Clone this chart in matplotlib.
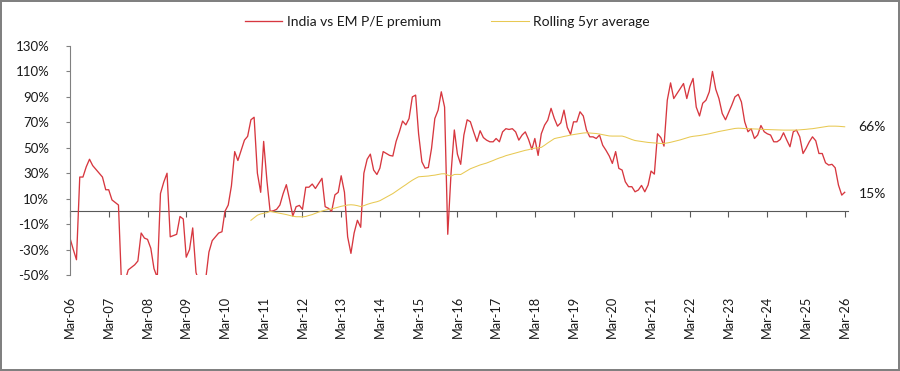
import pandas as pd
import matplotlib.pyplot as plt
import matplotlib.dates as mdates

plt.rcParams["font.family"] = ["Lato", "DejaVu Sans"]

# monthly, Mar-06 .. Mar-26
start = "2006-03-01"
premium = [
    -21, -30, -38, 27, 27, 35, 41, 36, 33, 30, 27, 17, 17, 9, 7, 5, -60, -55, -46, -44,
    -42, -39, -17, -21, -22, -29, -45, -52, 14, 23, 30, -20, -19, -18, -4, -6, -36, -30, -13, -48,
    -56, -58, -53, -32, -23, -20, -17, -16, 0, 5, 20, 47, 40, 48, 56, 59, 72, 74, 30, 15,
    55, 24, 0, 0.5, 1.6, 5, 14, 21, 9, -3.7, 3.7, 4.7, 1.6, 19, 19, 21.5, 18, 22, 26, 3.7,
    2.4, 0, 13, 15, 28, 15, -20, -33, -17, -7, -12.5, 30, 41, 45, 32.5, 29, 34, 47, 45.5, 44,
    43.5, 55, 62.6, 71, 68, 73, 90, 91.4, 61, 39, 34, 34.5, 49.5, 73, 79.6, 94, 82, -18, 30, 64,
    45, 37, 60, 72, 70.5, 62.5, 55, 63.4, 58, 56, 54.7, 54.7, 57.3, 54.7, 62.5, 65, 64.4, 65, 62.5, 56,
    60, 62.5, 56.5, 48.7, 57.3, 44, 61, 67.8, 71.7, 81, 73, 67, 69.6, 79.6, 66, 60.5, 70.4, 70.4, 78.3, 75,
    64, 58.6, 58.6, 57.3, 60, 52, 48, 43.5, 37.7, 47, 33.8, 32.5, 23.3, 19.4, 19.4, 15.4, 16.8, 20.4, 15.4, 20.7,
    31.7, 29.3, 61, 58, 51.3, 87.4, 101, 88.7, 92.7, 96.6, 100.5, 88.7, 98, 104.5, 82, 75, 85, 87.4, 94, 110,
    96, 88.7, 77, 72, 77.5, 83.5, 90, 92, 86, 70.4, 62.6, 65, 57.3, 60, 67.5, 62.6, 61, 60, 54.7, 54.7,
    56.5, 61.8, 56, 50.8, 62.6, 63.9, 58.6, 45.5, 49.5, 54.7, 58.6, 55.5, 45.5, 45.5, 38.2, 36.4, 37, 34.3, 20.7, 12.8,
    15,
]

# rolling 5yr average starts at month 56
avg_offset = 56
rolling_avg = [
    -7, -5, -3, -2, -1.5, -1, 0, -0.5, -1, -1.5, -2, -2.5, -3.2, -3.8, -4.2, -4.2, -4.3, -4, -3.2, -2.5,
    -1.5, -0.5, 0.3, 1, 1.5, 2, 2.6, 3.3, 4, 4.5, 5, 5.2, 5, 4.5, 3.8, 4.5, 5.5, 6.3, 7, 7.6,
    8.4, 9.8, 11.2, 12.5, 14, 15.8, 17.5, 19.3, 21, 22.8, 24.5, 26, 27.2, 27.4, 27.6, 27.8, 28.2, 28.5, 29, 29.5,
    29.6, 28.5, 27.8, 29, 29.1, 29, 30.5, 32, 33.5, 34.5, 35.5, 36.5, 37.3, 38, 39, 40, 41, 42, 42.8, 43.8,
    44.5, 45.3, 46, 46.7, 47.3, 48, 48.5, 49.3, 49.7, 50, 50.3, 52, 53.8, 55.5, 57.2, 57.8, 58.3, 58.9, 59.4, 60,
    60.4, 60.8, 61.2, 61.6, 61.8, 61.6, 61.4, 61.2, 60.8, 60.3, 59.8, 59.3, 59.2, 59.2, 59.2, 59.2, 58.5, 57.5, 56.5, 55.7,
    55.3, 55, 54.6, 54.2, 54, 53.8, 53.6, 53.4, 53.4, 53.8, 54.3, 54.9, 55.5, 56.2, 57, 57.8, 58.5, 59, 59.3, 59.6,
    60, 60.5, 61, 61.6, 62.2, 62.8, 63.3, 63.8, 64.2, 64.7, 65.2, 65.4, 65.3, 65.1, 65, 64.9, 64.8, 64.7, 64.5, 64.4,
    64.3, 64.2, 64.1, 64, 63.9, 63.9, 63.9, 63.9, 63.9, 63.9, 64.1, 64.3, 64.5, 64.8, 65, 65.4, 65.8, 66.2, 66.6, 67,
    67, 67, 66.9, 66.7, 66.5,
]

dates = pd.date_range(start, periods=len(premium), freq="MS")
avg_dates = dates[avg_offset:avg_offset + len(rolling_avg)]

red = "#d7373f"
gold = "#e8c953"
grey = "#808080"
txt = "#1a1a1a"

fig = plt.figure(figsize=(9, 3.71), dpi=100)
fig.patch.set_edgecolor(grey)
fig.patch.set_linewidth(1.5)
ax = fig.add_axes([70 / 900, 1 - 275 / 371, 778 / 900, 229 / 371])

ax.plot(dates, premium, color=red, lw=0.95, label="India vs EM P/E premium")
ax.plot(avg_dates, rolling_avg, color=gold, lw=0.75, label="Rolling 5yr average")

ax.set_ylim(-50, 130)
ax.set_yticks(range(-50, 131, 20))
ax.yaxis.set_major_formatter(plt.FuncFormatter(lambda v, p: f"{v:.0f}%"))
ax.set_xlim(dates[0], dates[-1] + pd.DateOffset(months=1))

ax.xaxis.set_major_locator(mdates.MonthLocator(bymonth=3))
ax.xaxis.set_major_formatter(mdates.DateFormatter("%b-%y"))
ax.tick_params(axis="x", length=0, rotation=90, labelsize=9.2, labelcolor=txt, pad=15)
ax.tick_params(axis="y", length=3, width=0.8, color=grey, labelsize=9.5, labelcolor=txt, pad=12)

for s in ["top", "right", "bottom"]:
    ax.spines[s].set_visible(False)
ax.spines["left"].set_color(grey)
ax.spines["left"].set_linewidth(0.8)

# zero line carrying the year ticks
zero_ax = ax.secondary_xaxis(50 / 180)
zero_ax.xaxis.set_major_locator(mdates.MonthLocator(bymonth=3))
zero_ax.spines["bottom"].set_color("#595959")
zero_ax.spines["bottom"].set_linewidth(0.8)
zero_ax.tick_params(axis="x", length=4, width=0.8, color="#595959", labelbottom=False)

ax.annotate(f"{rolling_avg[-1]:.0f}%", xy=(avg_dates[-1], rolling_avg[-1]), xytext=(10, 0),
            textcoords="offset points", va="center", ha="left", fontsize=10, color=txt,
            annotation_clip=False)
ax.annotate(f"{premium[-1]:.0f}%", xy=(dates[-1], premium[-1]), xytext=(10, -1),
            textcoords="offset points", va="center", ha="left", fontsize=10, color=txt,
            annotation_clip=False)

fig.legend(loc="center", bbox_to_anchor=(0.497, 1 - 22 / 371), ncol=2, frameon=False,
           fontsize=10, handlelength=2.7, handletextpad=0.35, columnspacing=3.6,
           labelcolor=txt)

fig.savefig("out.png", dpi=100)
